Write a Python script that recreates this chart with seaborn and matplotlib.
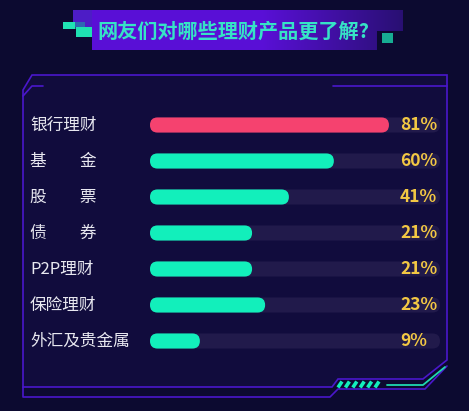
import numpy as np
import seaborn as sns
import matplotlib
matplotlib.use("Agg")
import matplotlib.pyplot as plt
from matplotlib.patches import FancyBboxPatch, Polygon
from matplotlib.transforms import blended_transform_factory

# data
title = "网友们对哪些理财产品更了解?"
categories = ["银行理财", "基\u3000\u3000金", "股\u3000\u3000票", "债\u3000\u3000券",
              "P2P理财", "保险理财", "外汇及贵金属"]
value_labels = ["81%", "60%", "41%", "21%", "21%", "23%", "9%"]
# bar length as drawn, in % of the grey track (the bars are not to scale)
bar_len = [82.4, 63.4, 47.9, 35.2, 35.2, 39.7, 17.2]
track = [100] * len(categories)

BG = "#0c0a30"
PANEL = "#110c3d"
LINE = "#4a17cc"
TEAL = "#12efbb"
PINK = "#f5426f"
TRACK = "#211a4b"
YELLOW = "#f3c843"
bar_colors = [PINK] + [TEAL] * (len(categories) - 1)

W, H = 469, 411
sns.set_theme(style="white")
plt.rcParams["font.family"] = ["Noto Sans CJK SC", "DejaVu Sans"]

fig = plt.figure(figsize=(W / 100, H / 100), dpi=100, facecolor=BG)

# decoration layer in pixel coordinates
deco = fig.add_axes([0, 0, 1, 1], zorder=0)
deco.set_xlim(0, W)
deco.set_ylim(H, 0)
deco.axis("off")
deco.set_facecolor(BG)

panel = [(32, 75), (447, 75), (447, 360), (423, 379), (338, 379), (332, 387),
         (23, 387), (23, 90)]
deco.add_patch(Polygon(panel, closed=True, fc=PANEL, ec=LINE, lw=1.2))
lw = 1.2
deco.plot([23, 23, 330, 338, 425, 447], [387, 397, 397, 389, 389, 366], color=LINE, lw=lw)
deco.plot([43, 32, 23], [86, 86, 96], color=LINE, lw=lw)
deco.plot([333, 447], [86, 86], color=LINE, lw=lw)

# teal bits at the bottom right
for k in range(6):
    x0 = 338 + k * 7.4
    deco.plot([x0, x0 + 4], [387.5, 381.5], color=TEAL, lw=2.6, solid_capstyle="butt")
deco.plot([387, 423, 445], [385, 385, 367], color="#1fd8b0", lw=1.3)

# title banner with gradient
bw, bh = 403 - 92, 50 - 10
img = np.zeros((bh, bw, 4))
t = np.linspace(0, 1, bw)
fade = np.clip((t - 0.55) / 0.45, 0, 1)
c0 = np.array([0.35, 0.06, 0.84])
c1 = np.array([0.16, 0.06, 0.45])
cols = c0[None, :] * (1 - fade[:, None]) + c1[None, :] * fade[:, None]
img[:, :, :3] = cols[None, :, :]
img[:, :, 3] = 1
img[21:, 377 - 92:, 3] = 0
deco.imshow(img, extent=(92, 403, 50, 10), origin="upper", aspect="auto", zorder=2)
deco.add_patch(Polygon([(73, 10), (92, 10), (92, 27), (73, 27)], fc="#4d1cc6", ec="none", zorder=1))
deco.add_patch(Polygon([(63, 22), (75, 22), (75, 29), (63, 29)], fc="#20e3b4", ec="none", zorder=3))
deco.add_patch(Polygon([(75, 22), (85, 22), (85, 29), (75, 29)], fc="#1a9aa6", ec="none", alpha=0.6, zorder=3))
deco.add_patch(Polygon([(76, 27), (92, 27), (92, 37), (76, 37)], fc="#1fe0b2", ec="none", zorder=3))
deco.add_patch(Polygon([(382, 33), (393, 33), (393, 43), (382, 43)], fc="#17ad93", ec="none", zorder=3))
deco.set_xlim(0, W)
deco.set_ylim(H, 0)
deco.text(97, 31, title, color="#36e3c6", fontsize=14.5, fontweight="bold",
          ha="left", va="center", zorder=4)

# bars
ax = fig.add_axes([150 / W, 1 - 359 / H, 290 / W, 252 / H], zorder=1)
ax.set_facecolor("none")
sns.barplot(x=track, y=categories, color=TRACK, width=0.42, ax=ax, saturation=1)
sns.barplot(x=bar_len, y=categories, hue=categories, palette=bar_colors,
            width=0.42, legend=False, ax=ax, saturation=1)
ax.set_xlim(0, 100)
ax.set_ylim(len(categories) - 0.5, -0.5)

asp = (1 / 36) / (1 / 2.9)
for p in list(ax.patches):
    x, y = p.get_x(), p.get_y()
    w, h = p.get_width(), p.get_height()
    r = h / asp / 2
    fc = p.get_facecolor()
    p.remove()
    ax.add_patch(FancyBboxPatch((x, y), w, h, boxstyle=f"round,pad=0,rounding_size={r}",
                                mutation_aspect=asp, fc=fc, ec="none"))

tr = blended_transform_factory(fig.transFigure, ax.transData)
for i, (cat, lab) in enumerate(zip(categories, value_labels)):
    ax.text(30 / W, i, cat, transform=tr, color="#e8e8f0", fontsize=12,
            ha="left", va="center")
    ax.text((400 - 150) / 2.9, i, lab, color=YELLOW, fontsize=12.5, fontweight="bold",
            ha="left", va="center")

ax.axis("off")
fig.savefig("out.png", dpi=100, facecolor=BG)
